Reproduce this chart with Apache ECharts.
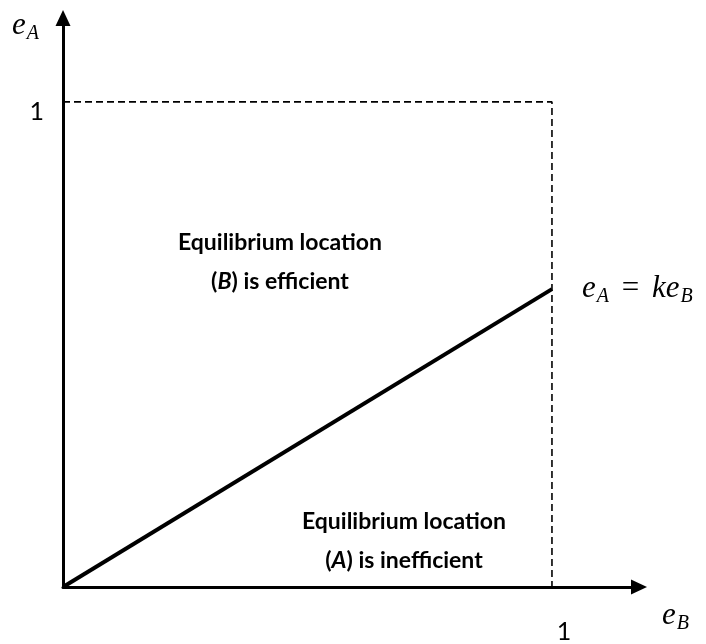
<!DOCTYPE html>
<html>
<head>
<meta charset="utf-8">
<script src="https://cdn.jsdelivr.net/npm/echarts@6/dist/echarts.min.js"></script>
<style>
  html, body { margin: 0; background: #fff; }
  #chart { width: 706px; height: 644px; }
</style>
</head>
<body>
<div id="chart"></div>
<script>
// unit square boundary (dashed) and the e_A = k e_B line
const boundX = [0, 1, 1];
const boundY = [1, 1, 0];
const lineX = [0, 1];
const lineY = [0, 0.614];
const tickValues = [1];

const SANS = "Lato, 'Open Sans', sans-serif";
const MATH = "'Liberation Serif', 'DejaVu Serif', serif";

const mathRich = {
  v: { fontFamily: MATH, fontStyle: "italic", fontSize: 31, color: "#000" },
  s: { fontFamily: MATH, fontStyle: "italic", fontSize: 20, color: "#000", padding: [16, 0, 0, 1] },
  o: { fontFamily: MATH, fontSize: 31, color: "#000", padding: [0, 5, 0, 5] },
};

const boldRich = {
  i: { fontStyle: "italic", fontWeight: "bold", fontSize: 23, fontFamily: SANS, color: "#000" },
};

const chart = echarts.init(document.getElementById("chart"), null, { renderer: "canvas" });

const axisBase = {
  type: "value",
  min: 0,
  interval: 1,
  splitLine: { show: false },
  axisTick: { show: false },
  axisLine: {
    lineStyle: { color: "#000", width: 3 },
    symbol: ["none", "triangle"],
    symbolSize: [15, 16],
  },
};

chart.setOption({
  animation: false,
  grid: { left: 63, top: 18, width: 576, height: 575 },
  xAxis: {
    ...axisBase,
    max: 1.178,
    axisLabel: {
      color: "#000",
      fontFamily: SANS,
      fontSize: 25,
      margin: 32,
      padding: [0, 0, 0, 24],
      formatter: (v) => (tickValues.includes(v) ? String(v) : ""),
    },
  },
  yAxis: {
    ...axisBase,
    max: 1.173,
    axisLabel: {
      color: "#000",
      fontFamily: SANS,
      fontSize: 25,
      margin: 19,
      verticalAlign: "top",
      padding: [-2, 0, 0, 0],
      formatter: (v) => (tickValues.includes(v) ? String(v) : ""),
    },
  },
  series: [
    {
      type: "line",
      data: boundX.map((x, i) => [x, boundY[i]]),
      symbol: "none",
      lineStyle: { color: "#000", width: 1.6, type: [7, 4] },
      z: 1,
    },
    {
      type: "line",
      data: lineX.map((x, i) => [x, lineY[i]]),
      symbol: "none",
      lineStyle: { color: "#000", width: 4 },
      endLabel: {
        show: true,
        distance: 30,
        formatter: "{v|e}{s|A}{o| = }{v|ke}{s|B}",
        rich: mathRich,
      },
      z: 3,
    },
  ],
  graphic: [
    {
      type: "text",
      x: 12,
      y: 8,
      style: { text: "{v|e}{s|A}", rich: mathRich },
    },
    {
      type: "text",
      x: 662,
      y: 598,
      style: { text: "{v|e}{s|B}", rich: mathRich },
    },
    {
      type: "text",
      x: 280,
      y: 262,
      style: {
        text: "Equilibrium location\n({i|B}) is efficient",
        font: "bold 23px " + SANS,
        fill: "#000",
        align: "center",
        verticalAlign: "middle",
        lineHeight: 39,
        rich: boldRich,
      },
    },
    {
      type: "text",
      x: 404,
      y: 541,
      style: {
        text: "Equilibrium location\n({i|A}) is inefficient",
        font: "bold 23px " + SANS,
        fill: "#000",
        align: "center",
        verticalAlign: "middle",
        lineHeight: 39,
        rich: boldRich,
      },
    },
  ],
});
</script>
</body>
</html>
